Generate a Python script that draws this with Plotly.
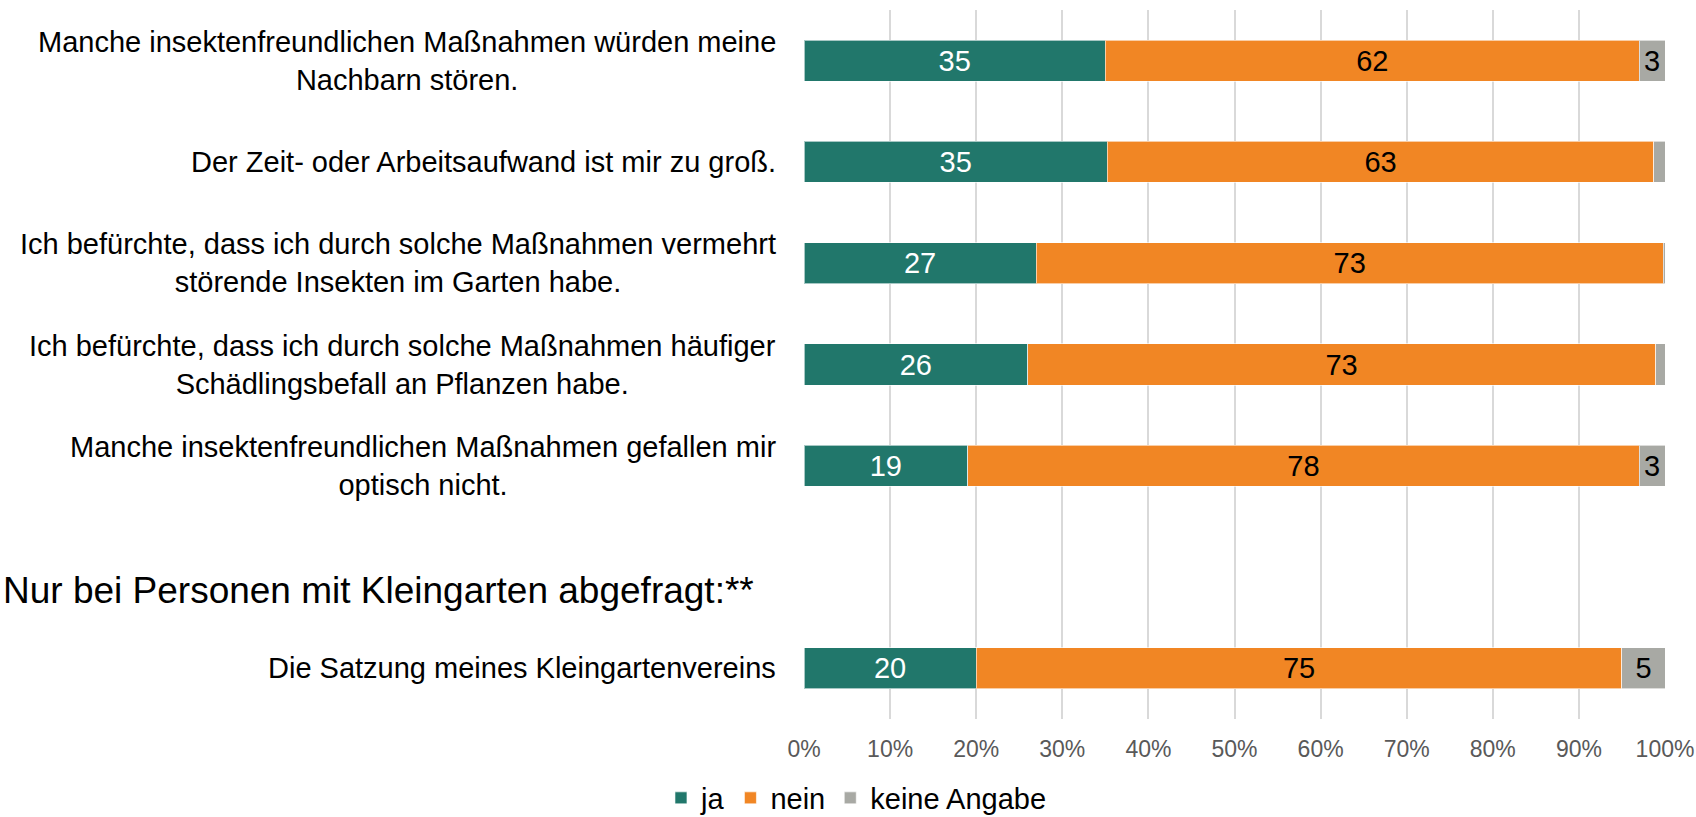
import plotly.graph_objects as go

# Survey statements, top to bottom; SPACER keeps an empty row before the allotment-only item
SPACER = "Kleingarten-Abschnitt"
categories = [
    "Manche insektenfreundlichen Maßnahmen würden meine<br>Nachbarn stören.",
    "Der Zeit- oder Arbeitsaufwand ist mir zu groß.",
    "Ich befürchte, dass ich durch solche Maßnahmen vermehrt<br>störende Insekten im Garten habe.",
    "Ich befürchte, dass ich durch solche Maßnahmen häufiger<br>Schädlingsbefall an Pflanzen habe.",
    "Manche insektenfreundlichen Maßnahmen gefallen mir<br>optisch nicht.",
    SPACER,
    "Die Satzung meines Kleingartenvereins",
]

ja = [35, 35, 27, 26, 19, None, 20]
nein = [62, 63, 73, 73, 78, None, 75]
keine_angabe = [3, 1.3, 0.2, 1.1, 3, None, 5]

series_names = ["ja", "nein", "keine Angabe"]
x_ticks = list(range(0, 101, 10))
x_tick_labels = [f"{t}%" for t in x_ticks]

section_heading = "Nur bei Personen mit Kleingarten abgefragt:**"

COLORS = {"ja": "#21776B", "nein": "#F18624", "keine Angabe": "#A8A9A4"}
FONT = "Liberation Sans, Arial, sans-serif"

W, H = 1696, 817
L, R, T, B = 803.5, 31, 10, 98
plot_w = W - L - R
plot_h = H - T - B


def labels_for(values, min_shown):
    return [f"{v:.0f}" if (v is not None and v >= min_shown) else "" for v in values]


fig = go.Figure()
for name, vals, txt_color, min_shown in [
    ("ja", ja, "white", 0),
    ("nein", nein, "black", 0),
    ("keine Angabe", keine_angabe, "black", 2),
]:
    fig.add_trace(go.Bar(
        name=name,
        y=categories,
        x=vals,
        orientation="h",
        text=labels_for(vals, min_shown),
        texttemplate="%{text}",
        textposition="inside",
        insidetextanchor="middle",
        constraintext="none",
        textangle=0,
        textfont=dict(family=FONT, size=29, color=txt_color),
        marker=dict(color=COLORS[name], line=dict(color="rgba(255,255,255,0.6)", width=1)),
        hoverinfo="skip",
    ))

# Category labels as annotations so wrapped lines are centred on each other
for cat in categories:
    if cat == SPACER:
        continue
    fig.add_annotation(
        x=0, xref="paper", y=cat, yref="y",
        text=cat, showarrow=False,
        xanchor="right", yanchor="middle", align="center",
        xshift=-26,
        font=dict(family=FONT, size=29, color="black"),
    )

# Section heading at the left page edge
fig.add_annotation(
    x=-L / plot_w, xref="paper",
    y=(H - B - 590) / plot_h, yref="paper",
    text=section_heading, showarrow=False,
    xanchor="left", yanchor="middle", align="left",
    font=dict(family=FONT, size=37, color="black"),
)

fig.update_layout(
    width=W, height=H,
    margin=dict(l=L, r=R, t=T, b=B, pad=0, autoexpand=False),
    barmode="stack",
    barnorm="percent",
    bargap=0.595,
    plot_bgcolor="white",
    paper_bgcolor="white",
    font=dict(family=FONT, color="black"),
    xaxis=dict(
        range=[0, 100],
        tickvals=x_ticks,
        ticktext=x_tick_labels,
        showgrid=True, gridcolor="#D9D9D9", gridwidth=2,
        zeroline=False, showline=False,
        ticks="",
        ticklabelstandoff=14,
        tickfont=dict(family=FONT, size=23, color="#595959"),
        automargin=False,
        fixedrange=True,
    ),
    yaxis=dict(
        type="category",
        categoryorder="array",
        categoryarray=categories,
        autorange="reversed",
        showticklabels=False,
        showgrid=False, zeroline=False, showline=False,
        ticks="",
        automargin=False,
        fixedrange=True,
    ),
    legend=dict(
        orientation="h",
        xref="container", yref="container",
        x=0.505, xanchor="center",
        y=1 - 798 / H, yanchor="middle",
        font=dict(family=FONT, size=29, color="black"),
        itemwidth=30,
        traceorder="normal",
    ),
    showlegend=True,
)

fig.write_html("out.html")
